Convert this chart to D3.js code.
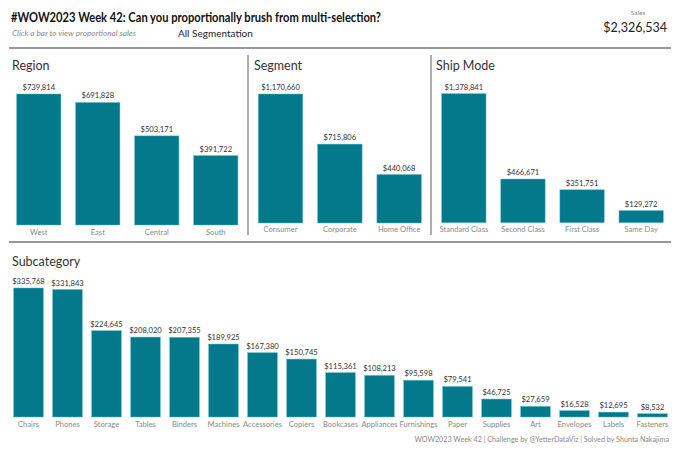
<!DOCTYPE html>
<html>
<head>
<meta charset="utf-8">
<script src="https://cdn.jsdelivr.net/npm/d3@7"></script>
<style>
  body { margin: 0; background: #fff; }
  svg { font-family: Lato, "Noto Sans", sans-serif; display: block; }
</style>
</head>
<body>
<div id="chart"></div>
<script>
var regions = ['West', 'East', 'Central', 'South'],
    regionSales = [739814, 691828, 503171, 391722];

var segments = ['Consumer', 'Corporate', 'Home Office'],
    segmentSales = [1170660, 715806, 440068];

var shipModes = ['Standard Class', 'Second Class', 'First Class', 'Same Day'],
    shipSales = [1378841, 466671, 351751, 129272];

var subcats = ['Chairs', 'Phones', 'Storage', 'Tables', 'Binders', 'Machines', 'Accessories',
               'Copiers', 'Bookcases', 'Appliances', 'Furnishings', 'Paper', 'Supplies', 'Art',
               'Envelopes', 'Labels', 'Fasteners'],
    subcatSales = [335768, 331843, 224645, 208020, 207355, 189925, 167380, 150745, 115361,
                   108213, 95598, 79541, 46725, 27659, 16528, 12695, 8532];

var totalSales = 2326534;

var w = 680, h = 453,
    barColor = '#03798b',
    money = d3.format('$,');

var svg = d3.select('#chart')
  .append('svg')
  .attr('width', w)
  .attr('height', h);

// header
svg.append('text')
  .attr('x', 11).attr('y', 22)
  .attr('font-size', 12.5).attr('font-weight', 'bold').attr('fill', '#111')
  .attr('textLength', 370).attr('lengthAdjust', 'spacingAndGlyphs')
  .text('#WOW2023 Week 42: Can you proportionally brush from multi-selection?');

svg.append('text')
  .attr('x', 12).attr('y', 36)
  .attr('font-size', 8.2).attr('font-style', 'italic').attr('fill', '#8a8a8a')
  .text('Click a bar to view proportional sales');

svg.append('text')
  .attr('x', 178).attr('y', 36.5)
  .attr('font-size', 10).attr('fill', '#222')
  .text('All Segmentation');

svg.append('text')
  .attr('x', 638).attr('y', 15).attr('text-anchor', 'middle')
  .attr('font-size', 6.5).attr('fill', '#888')
  .text('Sales');

svg.append('text')
  .attr('x', 667).attr('y', 31.5).attr('text-anchor', 'end')
  .attr('font-size', 12.5).attr('fill', '#222')
  .text(money(totalSales));

// dividers
svg.append('line')
  .attr('x1', 9).attr('x2', 671).attr('y1', 48).attr('y2', 48)
  .style('stroke', '#777').style('stroke-width', 1.5);
svg.append('line')
  .attr('x1', 9).attr('x2', 671).attr('y1', 242).attr('y2', 242)
  .style('stroke', '#777').style('stroke-width', 1.5);
[248, 431].forEach(function(x){
  svg.append('line')
    .attr('x1', x).attr('x2', x).attr('y1', 55).attr('y2', 235)
    .style('stroke', '#777').style('stroke-width', 1.2);
});

function panel(opts) {
  var g = svg.append('g');

  g.append('text')
    .attr('x', opts.titleX).attr('y', opts.titleY)
    .attr('font-size', 12.5).attr('fill', '#333')
    .text(opts.title);

  var x = d3.scaleBand()
    .domain(opts.cats)
    .range(opts.xRange)
    .paddingInner(opts.padIn)
    .paddingOuter(opts.padOut);

  var y = d3.scaleLinear()
    .domain([0, d3.max(opts.values)])
    .range([opts.bottom, opts.top]);

  var data = opts.cats.map(function(c, i){ return {cat: c, value: opts.values[i]}; });

  g.selectAll('rect.bar').data(data).enter()
    .append('rect')
    .attr('class', 'bar')
    .attr('x', function(d){ return x(d.cat); })
    .attr('y', function(d){ return y(d.value); })
    .attr('width', x.bandwidth())
    .attr('height', function(d){ return opts.bottom - y(d.value); })
    .style('fill', barColor)
    .style('stroke', '#5bb7c4')
    .style('stroke-width', 0.5);

  g.selectAll('text.val').data(data).enter()
    .append('text')
    .attr('class', 'val')
    .attr('x', function(d){ return x(d.cat) + x.bandwidth() / 2; })
    .attr('y', function(d){ return y(d.value) - 4; })
    .attr('text-anchor', 'middle')
    .attr('font-size', 7.6).attr('fill', '#333')
    .text(function(d){ return money(d.value); });

  var axis = d3.axisBottom(x).tickSize(0).tickPadding(0);
  var ax = g.append('g')
    .attr('transform', 'translate(0,' + opts.bottom + ')')
    .call(axis);
  ax.select('.domain').remove();
  ax.selectAll('text')
    .attr('dy', null)
    .attr('y', opts.labelDy)
    .attr('font-family', 'Lato, sans-serif')
    .attr('font-size', 7.6)
    .attr('fill', '#8a8a8a');
}

panel({title: 'Region', titleX: 12, titleY: 70, cats: regions, values: regionSales,
       xRange: [9.3, 245.3], padIn: 0.25, padOut: 0.125, bottom: 225, top: 94, labelDy: 10});

panel({title: 'Segment', titleX: 254, titleY: 70, cats: segments, values: segmentSales,
       xRange: [250.9, 428.8], padIn: 0.25, padOut: 0.125, bottom: 223, top: 94, labelDy: 9});

panel({title: 'Ship Mode', titleX: 436, titleY: 70, cats: shipModes, values: shipSales,
       xRange: [434.3, 670.7], padIn: 0.25, padOut: 0.125, bottom: 222.7, top: 93.7, labelDy: 9.5});

panel({title: 'Subcategory', titleX: 12, titleY: 266, cats: subcats, values: subcatSales,
       xRange: [9, 672], padIn: 0.24, padOut: 0.12, bottom: 417, top: 288, labelDy: 10});

// footer
svg.append('text')
  .attr('x', 669).attr('y', 442).attr('text-anchor', 'end')
  .attr('font-size', 7.2).attr('fill', '#8a8a8a')
  .text('WOW2023 Week 42 | Challenge by @YetterDataViz | Solved by Shunta Nakajima');
</script>
</body>
</html>
